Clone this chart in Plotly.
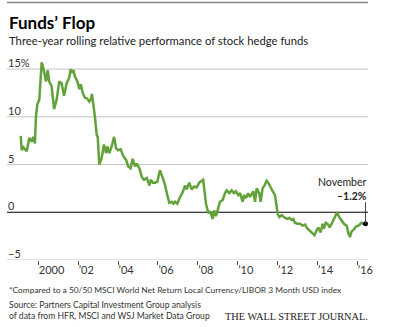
import plotly.graph_objects as go

# ---- data ----
years = [1999.12, 1999.17, 1999.25, 1999.42, 1999.55, 1999.67, 1999.75, 1999.83, 1999.88, 1999.95,
         2000.05, 2000.17, 2000.25, 2000.39, 2000.47, 2000.55, 2000.67, 2000.79, 2000.92,
         2001.05, 2001.17, 2001.29, 2001.42, 2001.55, 2001.62, 2001.69, 2001.76, 2001.84, 2001.96,
         2002.06, 2002.13, 2002.23, 2002.34, 2002.46, 2002.56, 2002.63, 2002.69, 2002.76, 2002.84, 2002.93, 2002.98,
         2003.06, 2003.18, 2003.29, 2003.40, 2003.46, 2003.56, 2003.68, 2003.80, 2003.90,
         2004.01, 2004.13, 2004.26, 2004.40, 2004.51, 2004.63, 2004.73, 2004.85, 2004.93,
         2005.07, 2005.19, 2005.30, 2005.44, 2005.57, 2005.64, 2005.74, 2005.85, 2005.97,
         2006.10, 2006.24, 2006.35, 2006.47, 2006.57, 2006.69, 2006.77, 2006.86, 2006.97,
         2007.11, 2007.24, 2007.36, 2007.44, 2007.57, 2007.69, 2007.81, 2007.94,
         2008.07, 2008.27, 2008.41, 2008.53, 2008.61, 2008.75, 2008.81, 2008.91, 2008.98,
         2009.11, 2009.25, 2009.36, 2009.45, 2009.58, 2009.70, 2009.81, 2009.91,
         2010.03, 2010.12, 2010.25, 2010.32, 2010.42, 2010.53, 2010.62, 2010.78, 2010.87, 2010.95,
         2011.08, 2011.15, 2011.25, 2011.37, 2011.45, 2011.53, 2011.62, 2011.76, 2011.87, 2011.96,
         2012.01, 2012.09, 2012.21, 2012.32, 2012.46, 2012.59, 2012.71, 2012.79, 2012.87, 2012.99,
         2013.12, 2013.26, 2013.38, 2013.49, 2013.59, 2013.71, 2013.75, 2013.85, 2013.96,
         2014.04, 2014.16, 2014.26, 2014.32, 2014.42, 2014.54, 2014.62, 2014.76, 2014.88, 2014.99,
         2015.09, 2015.21, 2015.33, 2015.47, 2015.55, 2015.63, 2015.71, 2015.83, 2015.93,
         2016.05, 2016.13, 2016.21, 2016.29, 2016.41]

performance = [8.0, 6.5, 6.8, 6.4, 7.8, 7.4, 7.9, 7.2, 10.0, 11.3,
               11.8, 15.7, 15.1, 13.7, 14.9, 13.7, 13.2, 10.8, 11.8,
               13.7, 13.5, 12.2, 13.5, 14.1, 15.0, 14.6, 14.9, 14.2, 13.7,
               12.9, 13.4, 12.5, 12.0, 11.9, 11.6, 11.8, 12.4, 11.4, 10.0, 8.1, 7.9,
               5.0, 5.7, 7.1, 6.2, 6.9, 6.2, 6.9, 7.9, 6.7,
               6.5, 6.6, 5.9, 5.5, 4.8, 4.6, 5.6, 4.8, 5.1,
               4.6, 3.7, 3.4, 3.6, 2.8, 3.4, 3.1, 3.1, 3.2,
               4.4, 3.6, 2.9, 1.8, 1.0, 1.1, 0.9, 1.1, 0.9,
               1.6, 2.1, 2.8, 2.4, 3.1, 2.4, 2.7, 2.6,
               3.1, 3.4, 0.9, -0.1, 0.1, -0.7, 0.2, -0.4, 0.1,
               1.1, 1.3, 2.0, 2.3, 2.0, 2.3, 2.0, 2.2,
               1.8, 2.0, 1.1, 1.8, 1.5, 2.0, 1.6, 2.2, 1.1, 2.5,
               2.0, 1.1, 2.5, 2.9, 3.3, 3.1, 2.8, 2.2, 1.8, 0.6,
               -0.2, -0.5, -0.3, -0.5, -0.7, -0.6, -0.8, -0.7, -1.1, -1.2,
               -1.2, -1.4, -1.3, -1.7, -1.9, -2.2, -2.3, -2.4, -1.9,
               -1.6, -2.1, -1.2, -1.7, -1.1, -1.3, -1.6, -1.0, -0.5, 0.0,
               -0.5, -0.9, -1.2, -1.4, -2.2, -2.6, -2.0, -1.8, -1.5,
               -1.4, -1.2, -1.1, -1.2, -1.2]

x_tick_vals = [2000, 2002, 2004, 2006, 2008, 2010, 2012, 2014, 2016]
x_tick_text = ["2000", "\u201902", "\u201904", "\u201906", "\u201908", "\u201910", "\u201912", "\u201914", "\u201916"]
y_tick_vals = [-5, 0, 5, 10, 15]
y_tick_text = ["\u20135", "0", "5", "10", "15%"]

last_label = "November"
last_value_text = "\u20131.2%"

GREEN = "#62a23a"
FONT = "Lato"
GRID = "#c4c4c4"

fig = go.Figure()
fig.add_trace(go.Scatter(x=years, y=performance, mode="lines",
                         line=dict(color=GREEN, width=2.5), hoverinfo="skip"))
fig.add_trace(go.Scatter(x=[years[-1]], y=[performance[-1]], mode="markers",
                         marker=dict(color="black", size=5), hoverinfo="skip"))

fig.update_layout(
    width=400, height=327,
    margin=dict(l=7, r=32, t=50, b=67),
    paper_bgcolor="white", plot_bgcolor="white",
    showlegend=False,
    font=dict(family=FONT, color="#333"),
    xaxis=dict(range=[1998.43, 2016.535], tickvals=x_tick_vals, ticktext=x_tick_text,
               ticks="outside", ticklen=4, tickcolor="#555", tickwidth=1,
               ticklabelposition="outside right",
               showgrid=False, zeroline=False, showline=False,
               tickfont=dict(size=11, color="#333")),
    yaxis=dict(range=[-5, 17], tickvals=y_tick_vals, showticklabels=False,
               ticks="", showgrid=False,
               zeroline=False, showline=False),
)

# horizontal gridlines (zero line in black) and their labels above them
for v, t in zip(y_tick_vals, y_tick_text):
    fig.add_shape(type="line", xref="paper", yref="y", x0=0, x1=1, y0=v, y1=v,
                  layer="below",
                  line=dict(color="black" if v == 0 else GRID, width=1.2 if v == 0 else 1))
    fig.add_annotation(xref="paper", yref="y", x=0, y=v, xanchor="left", yanchor="middle",
                       yshift=6.5, xshift=-1, text=t, showarrow=False,
                       font=dict(size=11, color="#333", family=FONT))

def py(p):
    return (260 - p) / 210.0

fig.add_shape(type="line", xref="paper", yref="paper", x0=0, x1=1, y0=py(2.5), y1=py(2.5),
              line=dict(color="#888", width=1.5))

fig.add_annotation(xref="paper", yref="paper", x=0, y=py(22), xanchor="left", yanchor="middle",
                   text="<b>Funds\u2019 Flop</b>", showarrow=False,
                   font=dict(size=17, color="black", family=FONT))
fig.add_annotation(xref="paper", yref="paper", x=0, y=py(41), xanchor="left", yanchor="middle",
                   text="Three-year rolling relative performance of stock hedge funds", showarrow=False,
                   font=dict(size=11.3, color="#222", family=FONT))
fig.add_annotation(xref="paper", yref="paper", x=0, y=py(290), xanchor="left", yanchor="middle",
                   text="*Compared to a 50/50 MSCI World Net Return Local Currency/LIBOR 3 Month USD index",
                   showarrow=False, font=dict(size=8.4, color="#333", family=FONT))
fig.add_annotation(xref="paper", yref="paper", x=0, y=py(310.5), xanchor="left", yanchor="middle",
                   text="Source: Partners Capital Investment Group analysis<br>of data from HFR, MSCI and WSJ Market Data Group",
                   align="left", showarrow=False, font=dict(size=8.6, color="#333", family=FONT))
fig.add_annotation(xref="paper", yref="paper", x=1, y=py(316), xanchor="right", yanchor="middle",
                   xshift=2,
                   text="THE WALL STREET JOURNAL.", showarrow=False,
                   font=dict(size=10.3, color="#222", family="Liberation Serif"))

# leader line from the last point up to the label
fig.add_annotation(x=years[-1], y=performance[-1], xref="x", yref="y", text="",
                   showarrow=True, arrowhead=0, arrowwidth=1, arrowcolor="#444",
                   ax=0, ay=-23, standoff=0, startstandoff=0)
fig.add_annotation(x=years[-1], y=performance[-1], xref="x", yref="y",
                   text=last_label + "<br><b>" + last_value_text + "</b>", align="right",
                   showarrow=False, xanchor="right", yanchor="bottom", xshift=3, yshift=20,
                   font=dict(size=10.5, color="#222", family=FONT))

fig.write_html("out.html")
